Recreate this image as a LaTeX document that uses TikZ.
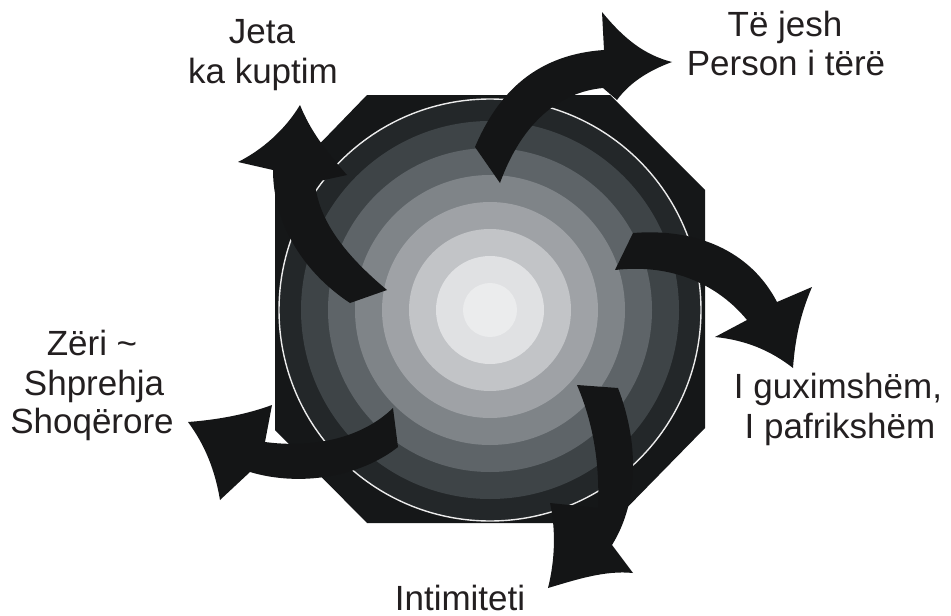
\documentclass[tikz,border=0pt]{standalone}
\usepackage{fontspec}
\setmainfont{Liberation Sans}
\definecolor{octc}{RGB}{21,23,24}
\definecolor{arrc}{RGB}{20,21,22}
\definecolor{txtc}{RGB}{35,31,32}
\definecolor{ra}{RGB}{35,39,41}
\definecolor{rb}{RGB}{62,68,71}
\definecolor{rc}{RGB}{94,100,104}
\definecolor{rd}{RGB}{127,132,136}
\definecolor{re}{RGB}{159,162,166}
\definecolor{rf}{RGB}{194,196,199}
\definecolor{rg}{RGB}{224,225,227}
\definecolor{rh}{RGB}{235,236,237}
\tikzset{
  arr/.style={fill=arrc},
  lbl/.style={anchor=base, inner sep=0pt, text=txtc, font=\fontsize{35}{40}\selectfont},
}
\begin{document}
\begin{tikzpicture}[x=1pt,y=-1pt]
\useasboundingbox (0,0) rectangle (951,616);
% octagon
\fill[octc] (367,95) -- (610,95) -- (705,190) -- (705,428) -- (612,523) -- (367,523) -- (275,430) -- (275,190) -- cycle;
% rings
\coordinate (c) at (490,310);
\fill[ra] (c) circle (211);
\fill[rb] (c) circle (189);
\fill[rc] (c) circle (162);
\fill[rd] (c) circle (135);
\fill[re] (c) circle (108);
\fill[rf] (c) circle (81);
\fill[rg] (c) circle (54);
\fill[rh] (c) circle (27);
\draw[white!92!black, line width=1.4pt] (c) circle (211);
% arrows
\fill[arr] (500,183) -- (475,147) .. controls (495,100) and (530,55) .. (604,50) -- (602,12) .. controls (625,40) and (645,55) .. (672,62) .. controls (650,70) and (630,82) .. (617,100) -- (603,88) .. controls (560,92) and (522,122) .. (500,183) -- cycle;
\fill[arr] (615,270) -- (633,233) .. controls (695,228) and (750,250) .. (777,302) -- (812,287) .. controls (800,315) and (795,340) .. (793,368) .. controls (770,350) and (745,340) .. (715,337) -- (747,320) .. controls (720,287) and (675,263) .. (615,270) -- cycle;
\fill[arr] (577,385) -- (618,388) .. controls (638,440) and (640,500) .. (612,545) -- (633,573) .. controls (605,570) and (575,580) .. (548,588) .. controls (555,560) and (556,530) .. (550,503) -- (598,508) .. controls (600,460) and (592,420) .. (577,385) -- cycle;
\fill[arr] (398,447) -- (393,408) .. controls (360,440) and (310,448) .. (265,442) -- (272,405) .. controls (245,415) and (215,420) .. (188,422) .. controls (205,445) and (215,470) .. (220,500) -- (250,472) .. controls (300,487) and (360,477) .. (398,447) -- cycle;
\fill[arr] (350,303) -- (387,290) .. controls (345,255) and (318,220) .. (315,182) -- (347,175) .. controls (325,150) and (310,130) .. (300,105) .. controls (285,130) and (262,150) .. (238,162) -- (273,170) .. controls (273,220) and (300,270) .. (350,303) -- cycle;
% labels
\node[lbl] (jeta1) at (262,43) {Jeta};
\node[lbl] (jeta2) at (263,83) {ka kuptim};
\node[lbl] (tj1) at (785,36) {Të jesh};
\node[lbl] (tj2) at (786,75) {Person i tërë};
\node[lbl] (z1) at (92,355) {Zëri \textasciitilde};
\node[lbl] (z2) at (94,395) {Shprehja};
\node[lbl] (z3) at (92,433) {Shoqërore};
\node[lbl] (g1) at (838,398) {I guximshëm,};
\node[lbl] (g2) at (840,438) {I pafrikshëm};
\node[lbl] (in1) at (460,610) {Intimiteti};
\end{tikzpicture}
\end{document}
